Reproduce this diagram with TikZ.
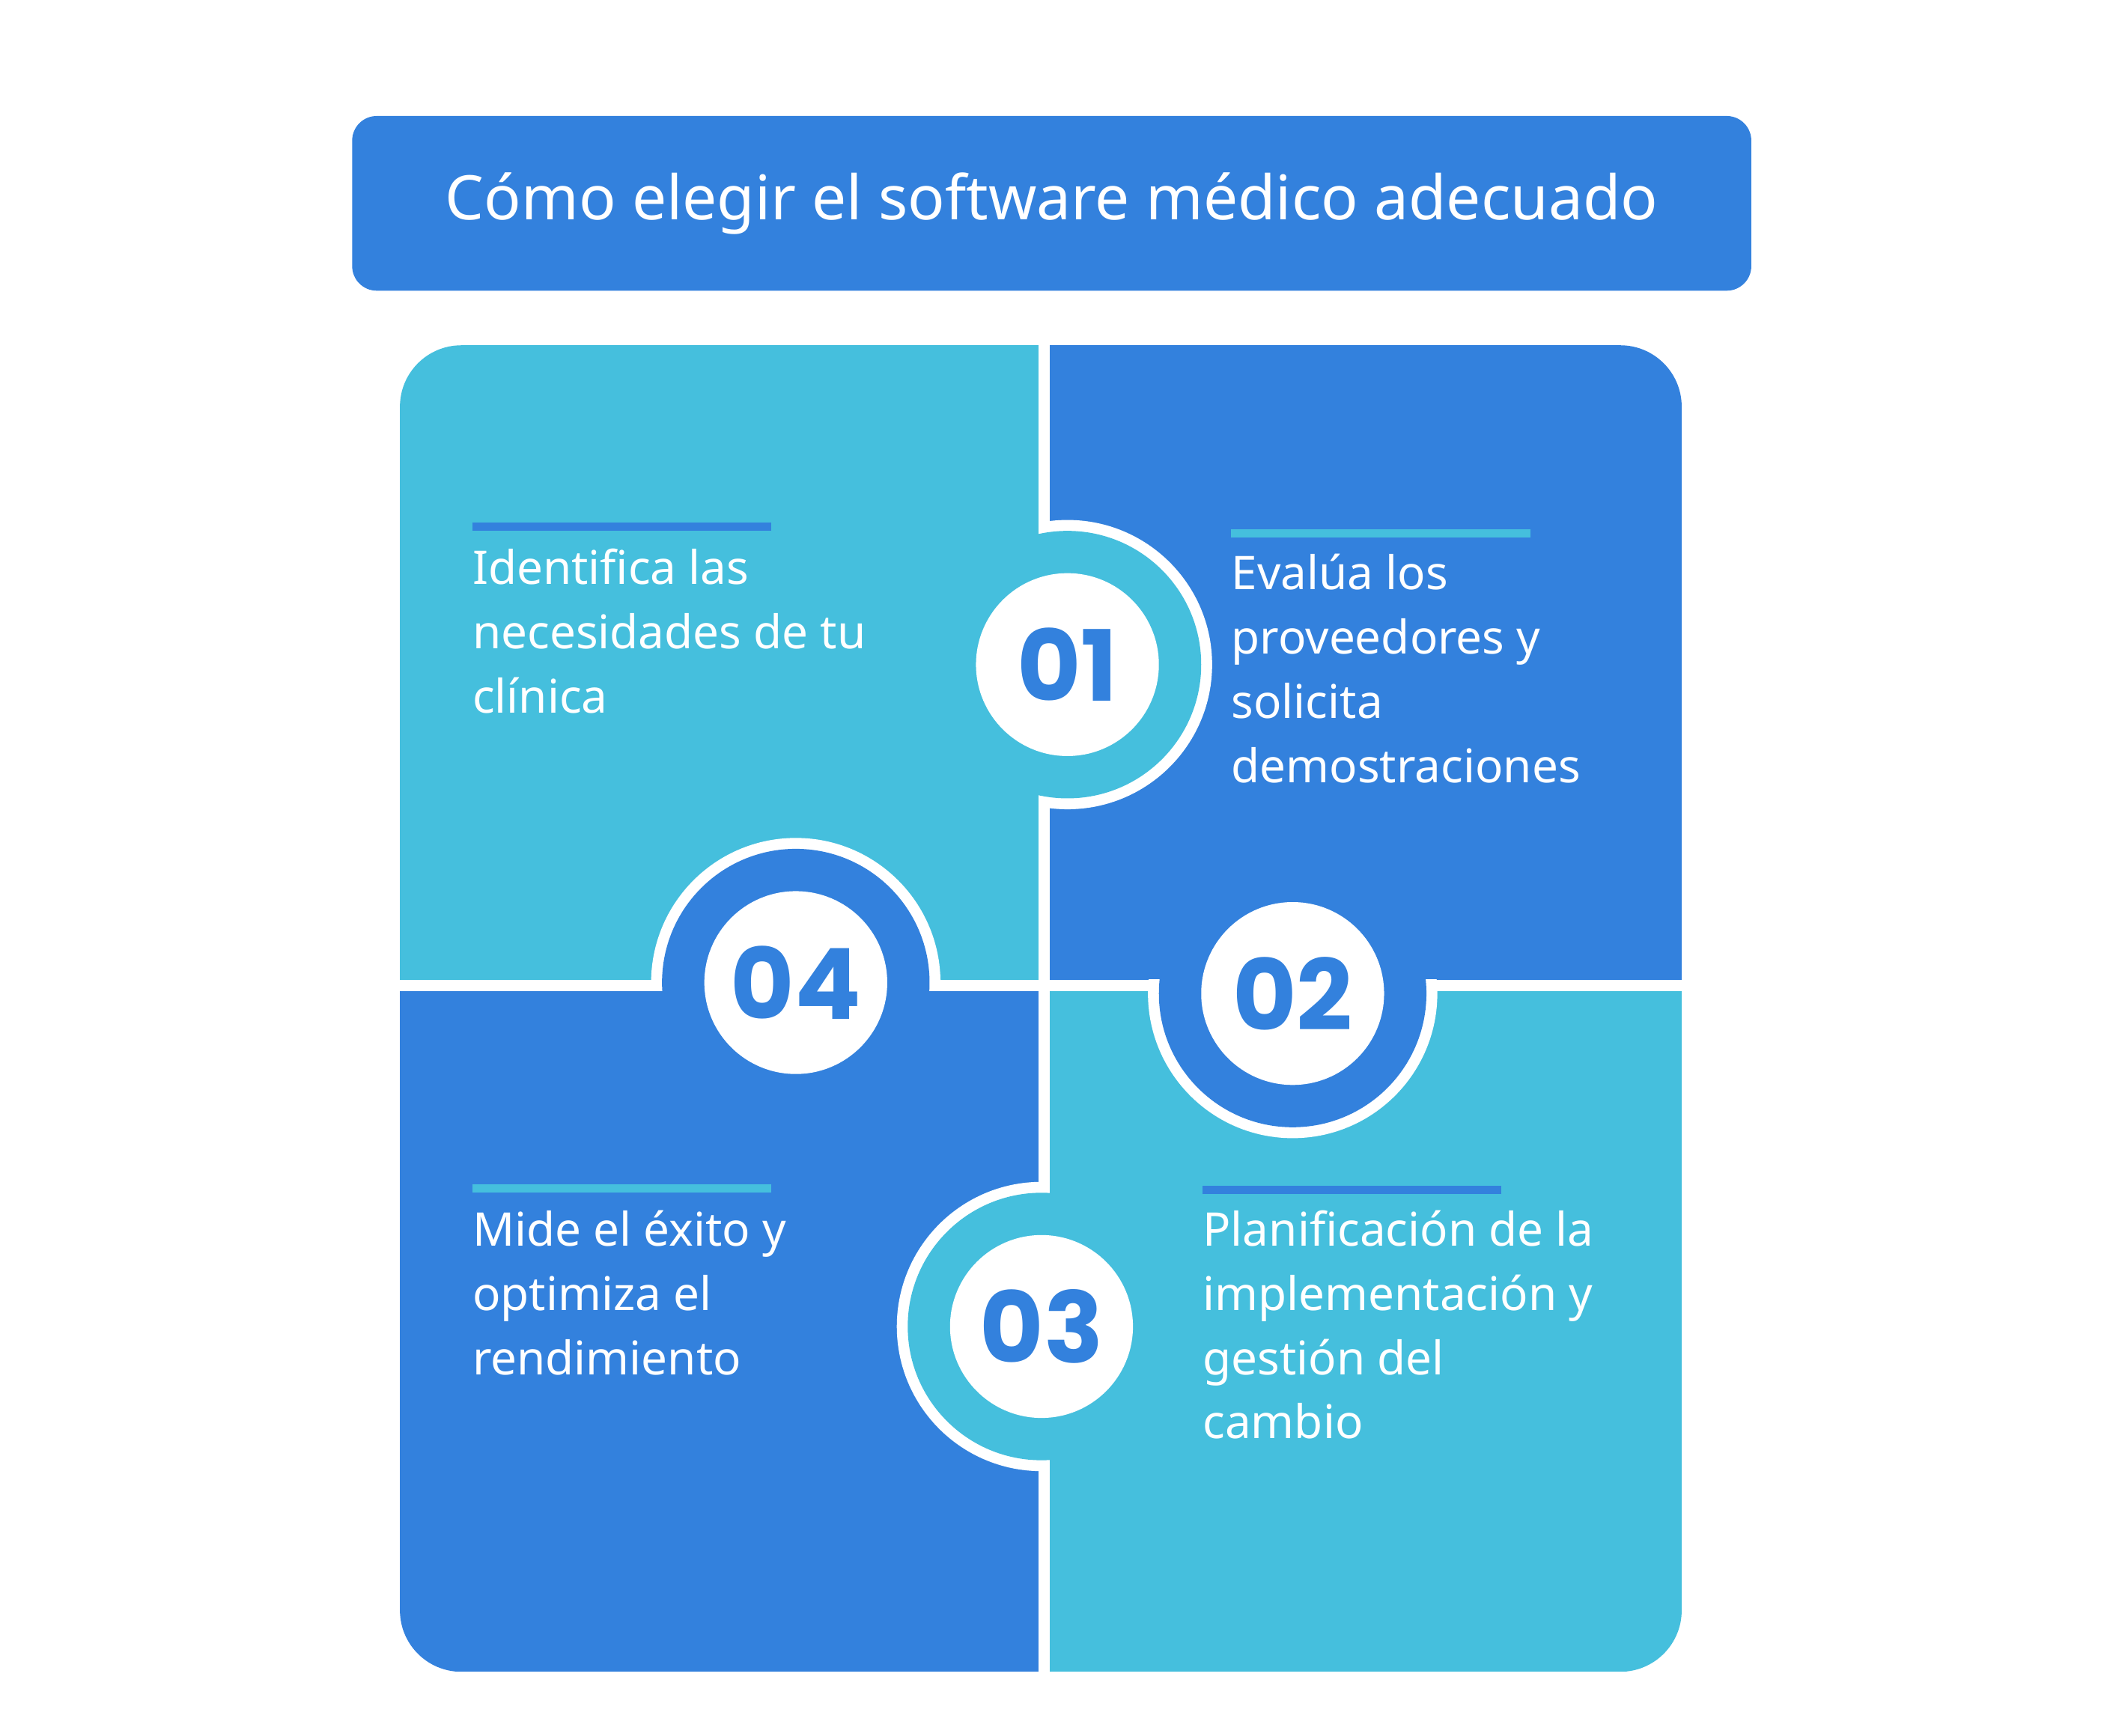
\documentclass[tikz,border=0pt]{standalone}
\usepackage{fontspec}
\setmainfont{Noto Sans}
\newfontfamily\numfont{Poppins}
\definecolor{dk}{HTML}{3381DD}
\definecolor{lt}{HTML}{45BFDD}
\begin{document}
\begin{tikzpicture}[x=1pt,y=-1pt,
  body/.style={anchor=north west,align=left,text=white,font=\fontsize{34}{47}\selectfont,inner sep=0pt},
  num/.style={circle,fill=white,minimum size=134pt,inner sep=0pt,text=dk,font=\numfont\bfseries\fontsize{72}{72}\selectfont},
  bar/.style={line width=6pt}]
\useasboundingbox (0,0) rectangle (1548,1272);
\fill[white] (0,0) rectangle (1548,1272);
\node[fill=dk,rounded corners=18pt,minimum width=1025pt,minimum height=128pt,text=white,font=\fontsize{45}{50}\selectfont] (title) at (770.5,149) {Cómo elegir el software médico adecuado};
\begin{scope}
\clip[rounded corners=45pt] (293,253) rectangle (1232,1225);
\fill[lt] (293,253) rectangle (765,722);
\fill[dk] (765,253) rectangle (1232,722);
\fill[dk] (293,722) rectangle (765,1225);
\fill[lt] (765,722) rectangle (1232,1225);
\draw[white,line width=8pt] (765,253) -- (765,1225);
\draw[white,line width=8pt] (293,722) -- (1232,722);
% 01
\begin{scope}\clip (761,300) rectangle (900,700); \fill[white] (782,487) circle (106);\end{scope}
\fill[lt] (782,487) circle (98);
% 04
\begin{scope}\clip (450,600) rectangle (720,726); \fill[white] (583,720) circle (106);\end{scope}
\fill[dk] (583,720) circle (98);
% 02
\begin{scope}\clip (800,718) rectangle (1100,860); \fill[white] (947,728) circle (106);\end{scope}
\fill[dk] (947,728) circle (98);
% 03
\begin{scope}\clip (640,850) rectangle (769,1100); \fill[white] (763,972) circle (106);\end{scope}
\fill[lt] (763,972) circle (98);
\end{scope}
\node[num] (n1) at (782,487) {01};
\node[num] (n4) at (583,720) {04};
\node[num] (n2) at (947,728) {02};
\node[num] (n3) at (763,972) {03};
\draw[bar,dk] (346,386) -- (565,386);
\draw[bar,lt] (902,391) -- (1121,391);
\draw[bar,lt] (346,871) -- (565,871);
\draw[bar,dk] (881,872) -- (1100,872);
\node[body] (t1) at (346,402) {Identifica las\\necesidades de tu\\clínica};
\node[body] (t2) at (902,406) {Evalúa los\\proveedores y\\solicita\\demostraciones};
\node[body] (t4) at (346,887) {Mide el éxito y\\optimiza el\\rendimiento};
\node[body] (t3) at (881,887) {Planificación de la\\implementación y\\gestión del\\cambio};
\end{tikzpicture}
\end{document}
